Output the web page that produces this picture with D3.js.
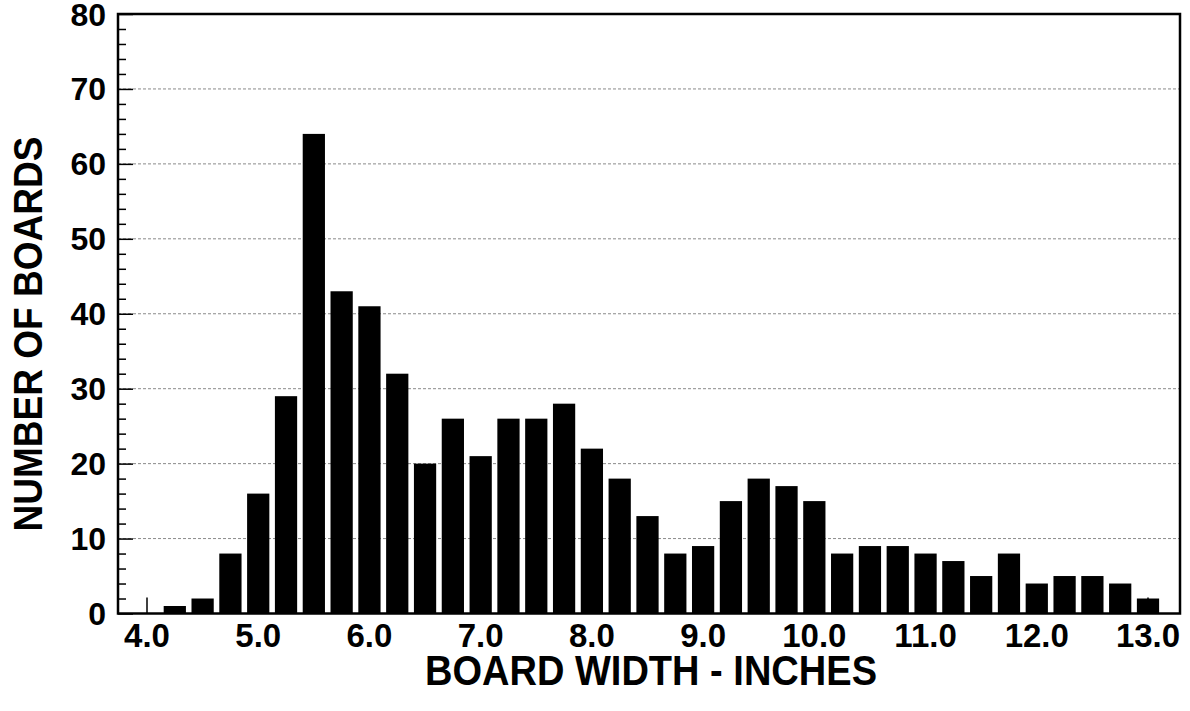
<!DOCTYPE html>
<html>
<head>
<meta charset="utf-8">
<script src="https://cdn.jsdelivr.net/npm/d3@7"></script>
<style>
    body { margin: 0; background: #fff; }
    svg { display: block; }
    text { font-family: "Liberation Sans", Arial, sans-serif; fill: #000; }
</style>
</head>
<body>
<div id="vis"></div>
<script>

// Data ----------------------------------------------------------------------

const WIDTHS = [4.25, 4.5, 4.75, 5.0, 5.25, 5.5, 5.75, 6.0, 6.25, 6.5, 6.75,
    7.0, 7.25, 7.5, 7.75, 8.0, 8.25, 8.5, 8.75, 9.0, 9.25, 9.5, 9.75, 10.0,
    10.25, 10.5, 10.75, 11.0, 11.25, 11.5, 11.75, 12.0, 12.25, 12.5, 12.75, 13.0];
const COUNTS = [1, 2, 8, 16, 29, 64, 43, 41, 32, 20, 26,
    21, 26, 26, 28, 22, 18, 13, 8, 9, 15, 18, 17, 15,
    8, 9, 9, 8, 7, 5, 8, 4, 5, 5, 4, 2];
const X_TICKS = [4, 5, 6, 7, 8, 9, 10, 11, 12, 13];
const Y_TICKS = [0, 10, 20, 30, 40, 50, 60, 70, 80];

// Chart ----------------------------------------------------------------------

const W = 1190, H = 711;
const plot = {left: 118, right: 1180, top: 14, bottom: 613.5};

const svg = d3.select("#vis")
    .append("svg")
    .attr("width", W)
    .attr("height", H);

// x: 4.0 sits at 147px, 13.0 at 1148px
const xscale = d3.scaleLinear().domain([4, 13]).range([147, 1148]);
const yscale = d3.scaleLinear().domain([0, 80]).range([plot.bottom, plot.top]);
const step = xscale(4.25) - xscale(4);
const barW = step * 0.8;

// Gridlines
svg.append("g")
    .selectAll("line")
    .data(Y_TICKS.filter(d => d > 0 && d < 80))
    .enter()
    .append("line")
    .attr("x1", plot.left)
    .attr("x2", plot.right)
    .attr("y1", d => yscale(d))
    .attr("y2", d => yscale(d))
    .attr("stroke", "#8a8a8a")
    .attr("stroke-width", 1)
    .attr("stroke-dasharray", "3,2");

// x ticks (inward), drawn under the bars
svg.append("g")
    .selectAll("line")
    .data(X_TICKS)
    .enter()
    .append("line")
    .attr("x1", d => xscale(d))
    .attr("x2", d => xscale(d))
    .attr("y1", plot.bottom)
    .attr("y2", plot.bottom - 16)
    .attr("stroke", "#000")
    .attr("stroke-width", 1.5);

// Bars
svg.append("g")
    .selectAll("rect")
    .data(WIDTHS.map((w, i) => ({w, n: COUNTS[i]})))
    .enter()
    .append("rect")
    .attr("x", d => xscale(d.w) - barW / 2)
    .attr("y", d => yscale(d.n))
    .attr("width", barW)
    .attr("height", d => yscale(0) - yscale(d.n))
    .attr("fill", "#000");

// y ticks: minor every 2, major every 10
const yaxis = d3.axisRight(yscale)
    .tickValues(d3.range(0, 81, 2))
    .tickSize(8)
    .tickFormat("");

const yg = svg.append("g")
    .attr("transform", `translate(${plot.left},0)`)
    .call(yaxis);
yg.select(".domain").remove();
yg.selectAll(".tick line")
    .attr("x2", d => d % 10 === 0 ? 15 : 8)
    .attr("stroke-width", 1.5);

// Frame
svg.append("rect")
    .attr("x", plot.left)
    .attr("y", plot.top)
    .attr("width", plot.right - plot.left)
    .attr("height", plot.bottom - plot.top)
    .attr("fill", "none")
    .attr("stroke", "#000")
    .attr("stroke-width", 2.5);

// y tick labels
svg.append("g")
    .selectAll("text")
    .data(Y_TICKS)
    .enter()
    .append("text")
    .attr("x", 106)
    .attr("y", d => yscale(d))
    .attr("dy", "0.36em")
    .attr("text-anchor", "end")
    .style("font-size", "32px")
    .style("font-weight", "bold")
    .text(d => d);

// x tick labels
svg.append("g")
    .selectAll("text")
    .data(X_TICKS)
    .enter()
    .append("text")
    .attr("x", d => xscale(d))
    .attr("y", 647)
    .attr("text-anchor", "middle")
    .style("font-size", "33px")
    .style("font-weight", "bold")
    .text(d => d.toFixed(1));

// Axis titles
svg.append("text")
    .attr("x", 651)
    .attr("y", 685)
    .attr("text-anchor", "middle")
    .attr("textLength", 452)
    .attr("lengthAdjust", "spacingAndGlyphs")
    .style("font-size", "42px")
    .style("font-weight", "bold")
    .text("BOARD WIDTH - INCHES");

svg.append("text")
    .attr("transform", "translate(42,334) rotate(-90)")
    .attr("text-anchor", "middle")
    .attr("textLength", 395)
    .attr("lengthAdjust", "spacingAndGlyphs")
    .style("font-size", "41px")
    .style("font-weight", "bold")
    .text("NUMBER OF BOARDS");

</script>
</body>
</html>
